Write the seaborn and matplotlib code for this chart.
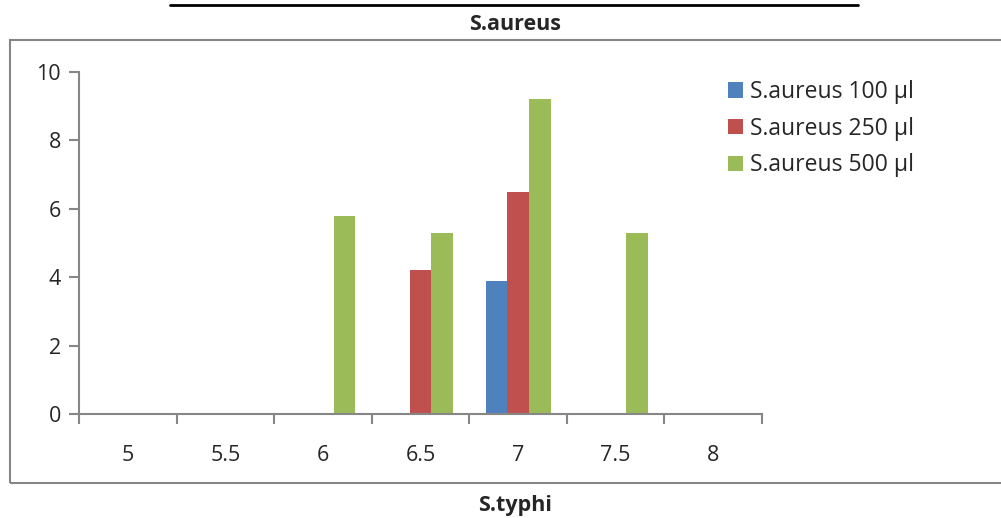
import matplotlib
matplotlib.use("Agg")
import matplotlib.pyplot as plt
from matplotlib.patches import Rectangle
from matplotlib.lines import Line2D
from matplotlib.ticker import FixedLocator
import pandas as pd
import seaborn as sns

# S.typhi dilution categories and zone values for each S.aureus volume
categories = ["5", "5.5", "6", "6.5", "7", "7.5", "8"]
aureus_100 = [0, 0, 0, 0, 3.9, 0, 0]
aureus_250 = [0, 0, 0, 4.2, 6.5, 0, 0]
aureus_500 = [0, 0, 5.8, 5.3, 9.2, 5.3, 0]
series_names = ["S.aureus 100 µl", "S.aureus 250 µl", "S.aureus 500 µl"]
colors = ["#4F81BD", "#C0504D", "#9BBB59"]
y_ticks = [0, 2, 4, 6, 8, 10]

rows = []
for name, vals in zip(series_names, [aureus_100, aureus_250, aureus_500]):
    for cat, v in zip(categories, vals):
        rows.append({"S.typhi": cat, "value": v, "series": name})
df = pd.DataFrame(rows)

sns.set_style("white")
plt.rcParams["font.family"] = ["Open Sans", "DejaVu Sans"]

W, H = 1001, 518
fig = plt.figure(figsize=(W / 100, H / 100), dpi=100)
ax = fig.add_axes([79 / W, (H - 414) / H, (762 - 79) / W, (414 - 72) / H])

sns.barplot(data=df, x="S.typhi", y="value", hue="series", order=categories,
            hue_order=series_names, palette=colors, width=0.667, gap=0,
            saturation=1, edgecolor="none", linewidth=0, errorbar=None, ax=ax)

ax.set_xlim(-0.5, len(categories) - 0.5)
ax.set_ylim(0, 10)
ax.set_yticks(y_ticks)
ax.set_yticklabels([str(t) for t in y_ticks], fontsize=15.5)
ax.set_xticks(range(len(categories)))
ax.set_xticklabels(categories, fontsize=15.5)
ax.xaxis.set_minor_locator(FixedLocator([i - 0.5 for i in range(len(categories) + 1)]))

axis_gray = "#868686"
for side in ["top", "right"]:
    ax.spines[side].set_visible(False)
for side in ["left", "bottom"]:
    ax.spines[side].set_color(axis_gray)
    ax.spines[side].set_linewidth(1.5)
ax.tick_params(axis="y", which="major", direction="out", length=7, width=1.5,
               color=axis_gray, pad=6, left=True)
ax.tick_params(axis="x", which="major", length=0, pad=22)
ax.tick_params(axis="x", which="minor", direction="out", length=7, width=1.5,
               color=axis_gray, bottom=True)
ax.set_xlabel("")
ax.set_ylabel("")

handles, labels = ax.get_legend_handles_labels()
ax.legend(handles, labels, loc="upper left", bbox_to_anchor=(719 / W, 1 - 71 / H),
          bbox_transform=fig.transFigure, frameon=False, fontsize=16.5,
          handlelength=0.65, handleheight=0.65, handletextpad=0.3,
          labelspacing=0.55, borderaxespad=0)

# Chart title, x-axis title, outer chart border and rule above the title
fig.text(515 / W, 1 - 25 / H, "S.aureus", ha="center", va="center",
         fontsize=15.5, fontweight="bold")
fig.text(515 / W, 1 - 505 / H, "S.typhi", ha="center", va="center",
         fontsize=15.5, fontweight="bold")
fig.patches.append(Rectangle((10 / W, 1 - 483 / H), (1010 - 10) / W, (483 - 40) / H,
                             transform=fig.transFigure, fill=False,
                             edgecolor=axis_gray, linewidth=1.5))
fig.lines.append(Line2D([170 / W, 858 / W], [1 - 5 / H, 1 - 5 / H],
                        transform=fig.transFigure, color="black", linewidth=2))

fig.savefig("out.png", dpi=100)
